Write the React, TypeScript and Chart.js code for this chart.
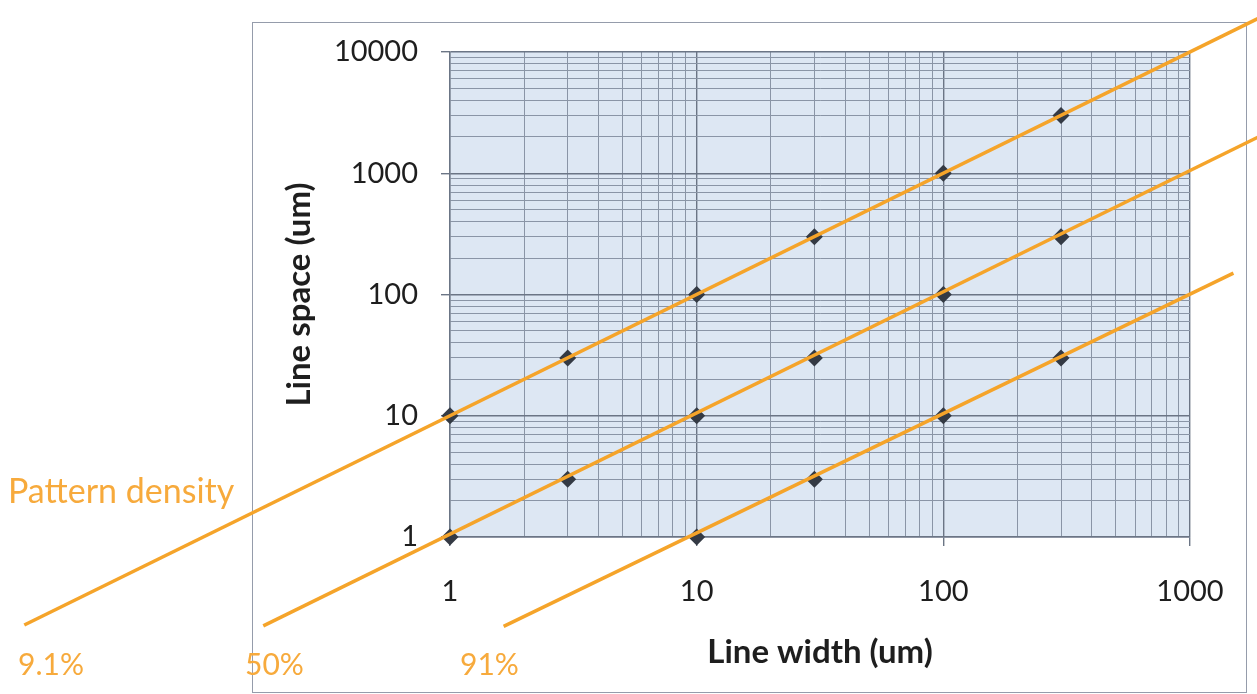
import React, { useEffect, useRef } from 'react';
import { Chart, registerables } from 'chart.js';

Chart.register(...registerables);

// ---- data ----
const widthSeriesA = [1, 3, 10, 30, 100, 300];
const spaceSeriesA = [10, 30, 100, 300, 1000, 3000];
const widthSeriesB = [1, 3, 10, 30, 100, 300];
const spaceSeriesB = [1, 3, 10, 30, 100, 300];
const widthSeriesC = [10, 30, 100, 300];
const spaceSeriesC = [1, 3, 10, 30];

const densityLabels = ['9.1%', '50%', '91%'];
const densityStartWidth = [0.0188, 0.175, 1.65];
const densityStartSpace = [0.188, 0.185, 0.183];
const densityEndWidth = [1900, 1900, 1500];
const densityEndSpace = [19000, 2000, 150];

const xDecades = [1, 10, 100, 1000];
const yDecades = [1, 10, 100, 1000, 10000];
const minorMultipliers = [1, 2, 3, 4, 5, 6, 7, 8, 9];

const xTitle = 'Line width (um)';
const yTitle = 'Line space (um)';
const annotationTitle = 'Pattern density';

// ---- styles ----
const ORANGE = '#f5a42a';
const ORANGE_TEXT = '#f7aa3c';
const MAJOR = '#6b7585';
const MINOR = '#8a95a6';
const PLOT_BG = '#dde7f3';
const FONT = 'Lato, "Open Sans", sans-serif';

const buildLogTicks = (decades: number[]) => {
  const out: number[] = [];
  for (let i = 0; i < decades.length - 1; i++) {
    for (const m of minorMultipliers) out.push(m * decades[i]);
  }
  out.push(decades[decades.length - 1]);
  return out;
};

const isDecade = (v: number) => {
  const l = Math.log10(v);
  return Math.abs(l - Math.round(l)) < 1e-9;
};

const toPoints = (xs: number[], ys: number[]) => xs.map((x, i) => ({ x, y: ys[i] }));

const decorPlugin = {
  id: 'decor',
  beforeDraw(chart: any) {
    const { ctx, chartArea } = chart;
    ctx.save();
    ctx.fillStyle = '#ffffff';
    ctx.fillRect(0, 0, chart.width, chart.height);
    ctx.strokeStyle = '#959cab';
    ctx.lineWidth = 1;
    ctx.strokeRect(252.5, 22.5, 994, 670);
    ctx.fillStyle = PLOT_BG;
    ctx.fillRect(chartArea.left, chartArea.top, chartArea.right - chartArea.left, chartArea.bottom - chartArea.top);
    ctx.restore();
  },
  afterDraw(chart: any) {
    const { ctx } = chart;
    ctx.save();
    ctx.fillStyle = ORANGE_TEXT;
    ctx.textBaseline = 'middle';
    ctx.textAlign = 'left';
    ctx.font = `34px ${FONT}`;
    ctx.fillText(annotationTitle, 8, 492);
    ctx.font = `30px ${FONT}`;
    const labelX = [18, 245, 460];
    densityLabels.forEach((t, i) => ctx.fillText(t, labelX[i], 665));
    ctx.restore();
  },
};

export default function App() {
  const canvasRef = useRef<HTMLCanvasElement | null>(null);

  useEffect(() => {
    document.body.style.margin = '0';
    const canvas = canvasRef.current;
    if (!canvas) return;

    const lineDatasets = densityLabels.map((label, i) => ({
      label,
      data: [
        { x: densityStartWidth[i], y: densityStartSpace[i] },
        { x: densityEndWidth[i], y: densityEndSpace[i] },
      ],
      showLine: true,
      borderColor: ORANGE,
      borderWidth: 3.5,
      pointRadius: 0,
      clip: false,
      order: 0,
    }));

    const pointStyle = {
      pointStyle: 'rectRot',
      pointRadius: 8.5,
      backgroundColor: '#343a44',
      borderColor: '#343a44',
      borderWidth: 0,
      showLine: false,
      clip: false,
      order: 1,
    };

    const titleFont = { family: FONT, size: 33, weight: 'bold' };
    const tickFont = { family: FONT, size: 29 };

    const chart = new Chart(canvas, {
      type: 'scatter',
      data: {
        datasets: [
          ...lineDatasets,
          { label: 'A', data: toPoints(widthSeriesA, spaceSeriesA), ...pointStyle },
          { label: 'B', data: toPoints(widthSeriesB, spaceSeriesB), ...pointStyle },
          { label: 'C', data: toPoints(widthSeriesC, spaceSeriesC), ...pointStyle },
        ] as any,
      },
      options: {
        responsive: false,
        animation: false,
        devicePixelRatio: 1,
        layout: { padding: { left: 280, top: 52, right: 67, bottom: 22 } },
        plugins: { legend: { display: false }, tooltip: { enabled: false } },
        scales: {
          x: {
            type: 'logarithmic',
            position: 'bottom',
            min: 1,
            max: 1000,
            afterBuildTicks: (scale: any) => {
              scale.ticks = buildLogTicks(xDecades).map((v) => ({ value: v }));
            },
            afterFit: (scale: any) => {
              scale.height = 135;
            },
            ticks: {
              autoSkip: false,
              maxRotation: 0,
              padding: 28,
              color: '#1e1e1e',
              font: tickFont,
              callback: (v: any) => (xDecades.includes(Number(v)) ? String(v) : ''),
            },
            grid: {
              color: (c: any) => (isDecade(c.tick.value) ? MAJOR : MINOR),
              lineWidth: (c: any) => (isDecade(c.tick.value) ? 1.4 : 1),
              tickLength: 9,
              tickColor: (c: any) => (isDecade(c.tick.value) ? MAJOR : 'rgba(0,0,0,0)'),
            },
            border: { display: true, color: MAJOR, width: 1.4 },
            title: {
              display: true,
              text: xTitle,
              color: '#1e1e1e',
              padding: 0,
              font: titleFont,
            },
          },
          y: {
            type: 'logarithmic',
            position: 'left',
            min: 1,
            max: 10000,
            afterBuildTicks: (scale: any) => {
              scale.ticks = buildLogTicks(yDecades).map((v) => ({ value: v }));
            },
            afterFit: (scale: any) => {
              scale.width = 170;
            },
            ticks: {
              autoSkip: false,
              padding: 23,
              color: '#1e1e1e',
              font: tickFont,
              callback: (v: any) => (yDecades.includes(Number(v)) ? String(v) : ''),
            },
            grid: {
              color: (c: any) => (isDecade(c.tick.value) ? MAJOR : MINOR),
              lineWidth: (c: any) => (isDecade(c.tick.value) ? 1.4 : 1),
              tickLength: 9,
              tickColor: (c: any) => (isDecade(c.tick.value) ? MAJOR : 'rgba(0,0,0,0)'),
            },
            border: { display: true, color: MAJOR, width: 1.4 },
            title: {
              display: true,
              text: yTitle,
              color: '#1e1e1e',
              padding: 0,
              font: titleFont,
            },
          },
        },
      } as any,
      plugins: [decorPlugin],
    });

    return () => chart.destroy();
  }, []);

  return (
    <div style={{ position: 'absolute', left: 0, top: 0, width: 1257, height: 694 }}>
      <canvas ref={canvasRef} width={1257} height={694} style={{ display: 'block' }} />
    </div>
  );
}
